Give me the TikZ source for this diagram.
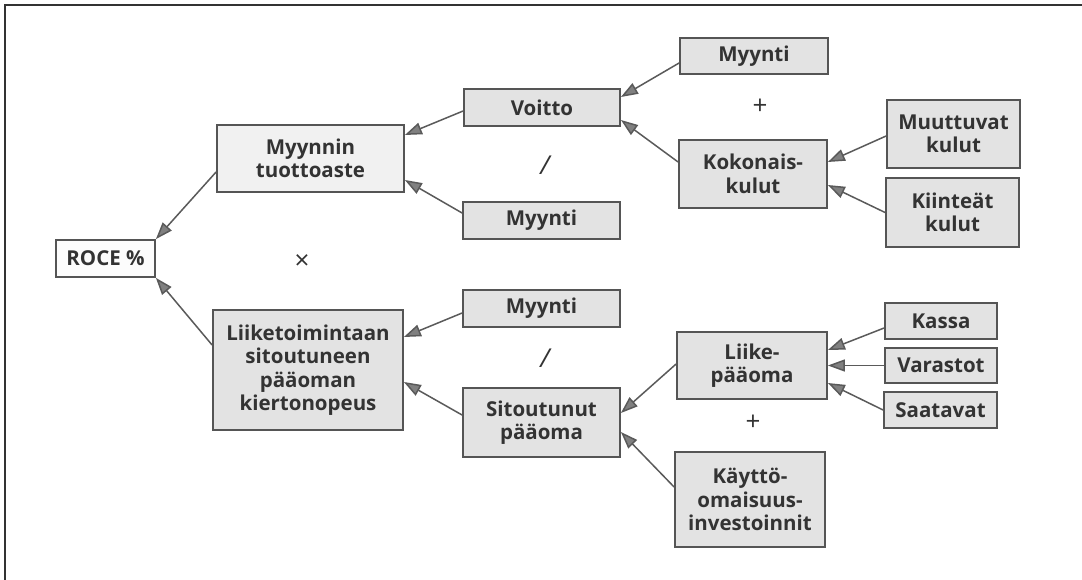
\documentclass[tikz,border=0pt]{standalone}
\usepackage{fontspec}
\setmainfont{Open Sans}
\usetikzlibrary{arrows.meta}
\definecolor{boxfill}{HTML}{E3E3E3}
\definecolor{boxline}{HTML}{555555}
\definecolor{txt}{HTML}{333333}
\definecolor{arr}{HTML}{5A5A5A}
\definecolor{tipfill}{HTML}{808080}
\begin{document}
\begin{tikzpicture}[x=1pt,y=-1pt,
  box/.style={draw=boxline,line width=1.8pt,fill=boxfill,align=center,inner sep=0pt,
    font=\fontsize{20.5}{23.5}\selectfont\bfseries,text=txt},
  op/.style={font=\fontsize{26}{28}\selectfont,text=txt,inner sep=0pt},
  link/.style={draw=arr,line width=1.5pt,-{Triangle[length=17pt,width=12pt,fill=tipfill]}}]
\useasboundingbox (0,0) rectangle (1082,580);
\fill[white] (0,0) rectangle (1082,580);
\draw[line width=1.6pt,draw=black!80] (5,580) -- (5,5) -- (1082,5);
% nodes
\node[box,fill=white!90!boxfill,minimum width=99pt,minimum height=37pt] (roce) at (105.5,258.5) {ROCE \%};
\node[box,fill=white!50!boxfill,minimum width=187pt,minimum height=67pt] (myt) at (310.5,158.5) {Myynnin\\tuottoaste};
\node[box,minimum width=156pt,minimum height=37pt] (voitto) at (542,107.5) {Voitto};
\node[box,minimum width=157pt,minimum height=37pt] (myy1) at (541.5,220.5) {Myynti};
\node[box,minimum width=148pt,minimum height=36pt] (myy0) at (754,56) {Myynti};
\node[box,minimum width=148pt,minimum height=68pt] (kok) at (753,174) {Kokonais-\\kulut};
\node[box,minimum width=133pt,minimum height=68pt] (muu) at (953.5,134) {Muuttuvat\\kulut};
\node[box,minimum width=133pt,minimum height=69pt] (kii) at (952.5,212.5) {Kiinteät\\kulut};
\node[box,minimum width=190pt,minimum height=120pt] (lii) at (308,370) {Liiketoimintaan\\sitoutuneen\\pääoman\\kiertonopeus};
\node[box,minimum width=157pt,minimum height=37pt] (myy2) at (541.5,308.5) {Myynti};
\node[box,minimum width=157pt,minimum height=69pt] (sit) at (541.5,422.5) {Sitoutunut\\pääoma};
\node[box,minimum width=150pt,minimum height=67pt] (lp) at (752,365.5) {Liike-\\pääoma};
\node[box,minimum width=150pt,minimum height=95pt] (kay) at (750,499.5) {Käyttö-\\omaisuus-\\investoinnit};
\node[box,minimum width=112pt,minimum height=36pt] (kas) at (941,321) {Kassa};
\node[box,minimum width=112pt,minimum height=35pt] (var) at (941,365.5) {Varastot};
\node[box,minimum width=113pt,minimum height=36pt] (saa) at (940.5,410) {Saatavat};
% operators
\node[op] (op1) at (760,107) {+};
\node[op] (op2) at (545,165) {\itshape /};
\node[op] (op3) at (302,262) {×};
\node[op] (op4) at (545,358) {\itshape /};
\node[op] (op5) at (753,423) {+};
% connectors
\draw[link] ([yshift=-13.5pt]myt.west) -- (roce.north east);
\draw[link] ([yshift=25pt]lii.west) -- (roce.south east);
\draw[link] ([yshift=-3.5pt]voitto.west) -- ([yshift=23.5pt]myt.east);
\draw[link] ([yshift=7.5pt]myy1.west) -- ([yshift=-21.5pt]myt.east);
\draw[link] ([yshift=-7pt]myy0.west) -- ([yshift=10.5pt]voitto.east);
\draw[link] ([yshift=12pt]kok.west) -- ([yshift=-12.5pt]voitto.east);
\draw[link] ([yshift=-2pt]muu.west) -- ([yshift=12pt]kok.east);
\draw[link] (kii.west) -- ([yshift=-11pt]kok.east);
\draw[link] ([yshift=-4.5pt]myy2.west) -- ([yshift=33pt]lii.east);
\draw[link] ([yshift=7.5pt]sit.west) -- ([yshift=-12pt]lii.east);
\draw[link] ([yshift=1.5pt]lp.west) -- ([yshift=9.5pt]sit.east);
\draw[link] ([yshift=12.5pt]kay.west) -- ([yshift=-9.5pt]sit.east);
\draw[link] ([yshift=-7pt]kas.west) -- ([yshift=15.5pt]lp.east);
\draw[link] (var.west) -- (lp.east);
\draw[link] (saa.west) -- ([yshift=-17.5pt]lp.east);
\end{tikzpicture}
\end{document}
